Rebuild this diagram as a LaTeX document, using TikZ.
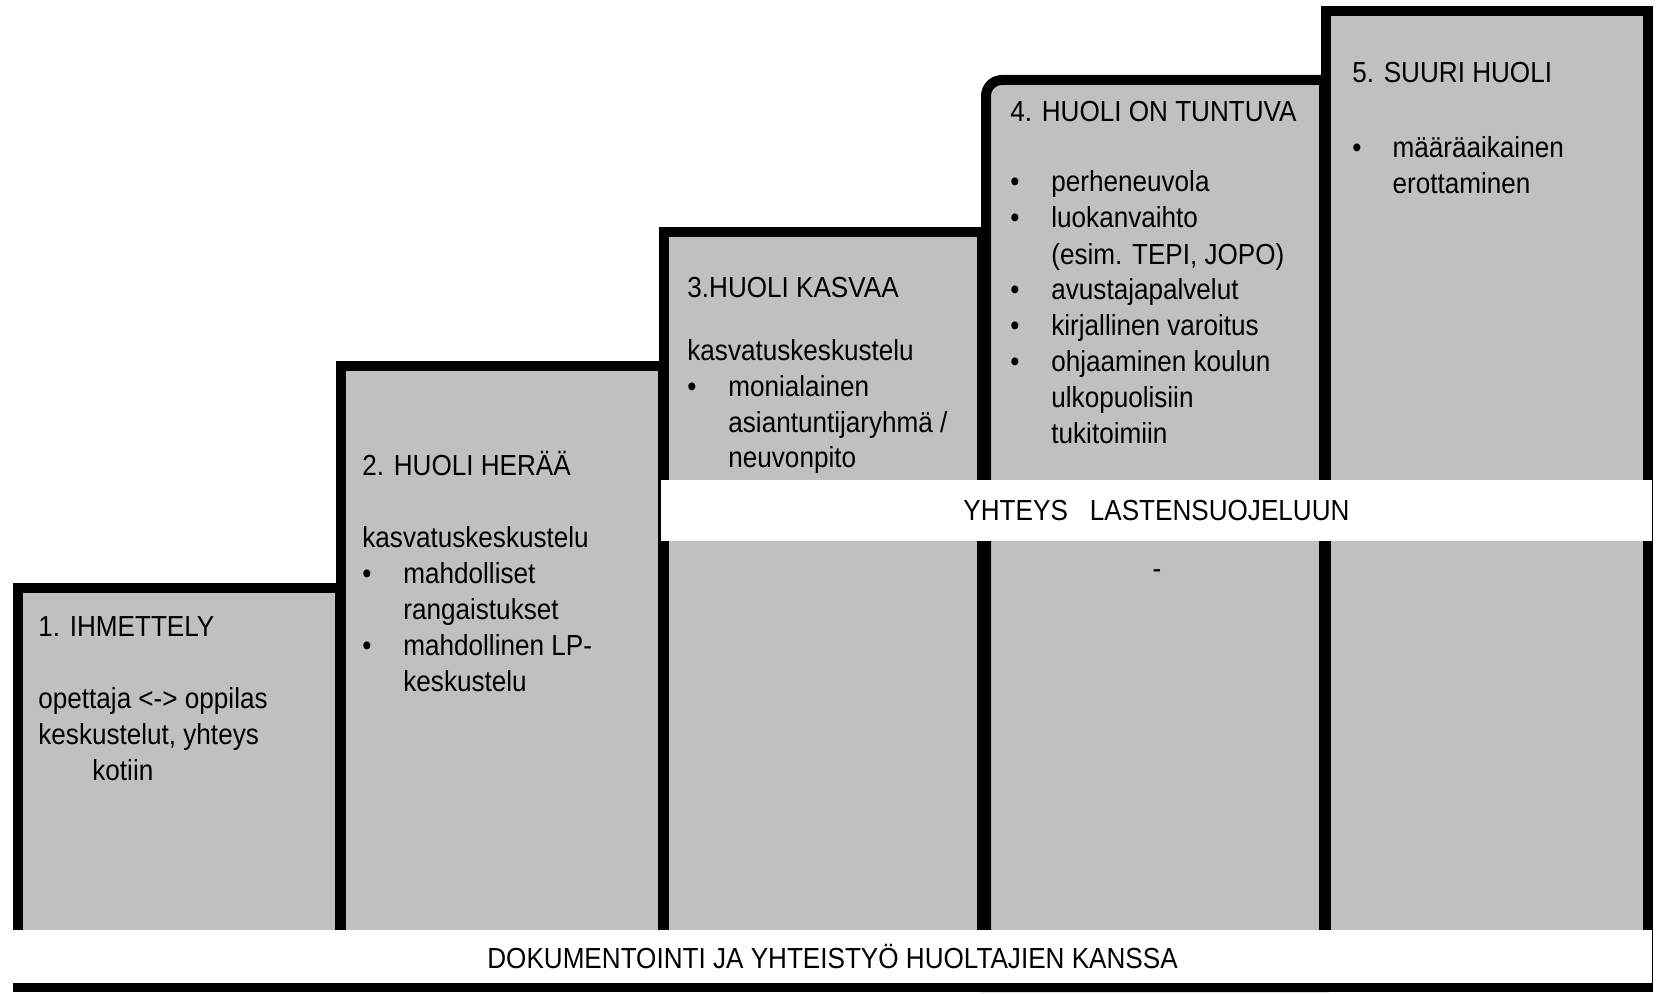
\documentclass[tikz,border=0pt]{standalone}
\usepackage{fontspec}
\setmainfont[FakeStretch=0.9]{Liberation Sans}

\definecolor{stepgray}{RGB}{192,192,192}
\newcommand\stepfont{\fontsize{14.5}{18}\selectfont}
\newcommand\bul[1][20.5pt]{\makebox[#1][l]{\textbullet}}
\newcommand\cont[1][20.5pt]{\hspace*{#1}}

\tikzset{
  stepbox/.style={fill=stepgray, draw=black, line width=5pt},
  steptext/.style={anchor=base west, inner sep=0pt, align=left, font=\stepfont},
  band/.style={fill=white, inner sep=0pt, font=\stepfont}
}

\begin{document}
\begin{tikzpicture}[x=0.5pt, y=-0.5pt]
        \useasboundingbox ( 0, 0 ) rectangle ( 1660, 994 );

        % portaat
        \draw [stepbox] ( 18, 588 ) rectangle ( 340, 987 );
        \draw [stepbox] ( 341, 366 ) rectangle ( 663, 987 );
        \draw [stepbox] ( 664, 232 ) rectangle ( 982, 987 );
        \draw [stepbox] ( 986, 987 ) [rounded corners=8] -- ( 986, 80 ) [sharp corners] -- ( 1324, 80 ) -- ( 1324, 987 ) -- cycle;
        \draw [stepbox] ( 1326, 11 ) rectangle ( 1648, 987 );

        % 1 (base = viimeinen rivi)
        \node [steptext] (h1) at ( 38, 636 ) {1. IHMETTELY};
        \node [steptext] (t1) at ( 38, 780 ) {opettaja <-> oppilas\\keskustelut, yhteys\\\hspace*{27pt}kotiin};

        % 2
        \node [steptext] (h2) at ( 362, 475 ) {2. HUOLI HERÄÄ};
        \node [steptext] (t2) at ( 362, 691 ) {kasvatuskeskustelu\\\bul mahdolliset\\\cont rangaistukset\\\bul mahdollinen LP-\\\cont keskustelu};

        % 3
        \node [steptext] (h3) at ( 687, 298 ) {3.HUOLI KASVAA};
        \node [steptext] (t3) at ( 687, 468 ) {kasvatuskeskustelu\\\bul monialainen\\\cont asiantuntijaryhmä /\\\cont neuvonpito};

        % 4
        \node [steptext] (h4) at ( 1010, 122 ) {4. HUOLI ON TUNTUVA};
        \node [steptext] (t4) at ( 1010, 444 ) {\bul perheneuvola\\\bul luokanvaihto\\\cont (esim. TEPI, JOPO)\\\bul avustajapalvelut\\\bul kirjallinen varoitus\\\bul ohjaaminen koulun\\\cont ulkopuolisiin\\\cont tukitoimiin};

        % 5
        \node [steptext] (h5) at ( 1352, 83 ) {5. SUURI HUOLI};
        \node [steptext] (t5) at ( 1352, 194 ) {\bul[16.5pt] määräaikainen\\\cont[16.5pt] erottaminen};

        % yhteys
        \node [band, minimum width=495.5pt, minimum height=30.5pt] (ls) at ( 1156.5, 510.5 ) {YHTEYS\hspace{11pt}LASTENSUOJELUUN};
        \node [steptext, anchor=base] (dash) at ( 1157, 578 ) {-};

        % dokumentointi
        \node [band, minimum width=819.5pt, minimum height=26.5pt] (doc) at ( 832.5, 956.5 ) {DOKUMENTOINTI JA YHTEISTYÖ HUOLTAJIEN KANSSA};
\end{tikzpicture}
\end{document}
